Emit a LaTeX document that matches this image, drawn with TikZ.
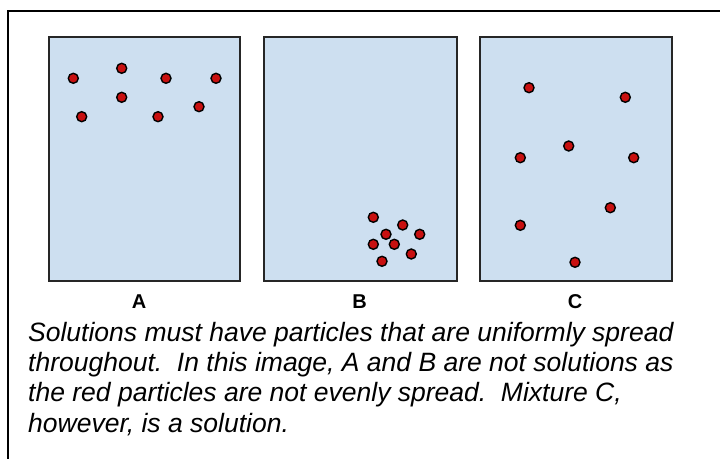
\documentclass[tikz,border=0pt]{standalone}
\usepackage{fontspec}
\setmainfont{Liberation Sans}
\begin{document}
\begin{tikzpicture}[x=1bp,y=-1bp,
  beaker/.style={draw=black!85, line width=2bp, fill={rgb,255:red,205;green,223;blue,240}, rectangle, inner sep=0pt, anchor=north west},
  particle/.style={circle, draw=black, line width=1.4bp, fill={rgb,255:red,200;green,16;blue,16}, minimum size=10bp, inner sep=0pt},
  tag/.style={font=\bfseries\fontsize{20bp}{22bp}\selectfont, anchor=base},
  frameline/.style={line width=1.5bp, draw=black}]
\useasboundingbox (0,0) rectangle (720,459);
\fill[white] (0,0) rectangle (720,459);
\coordinate (fTL) at (8,11);
\coordinate (fTR) at (720,11);
\coordinate (fBL) at (8,459);
\draw[frameline] (fTR) -- (fTL) -- (fBL);
% beakers
\node[beaker, minimum width=191bp, minimum height=244bp] (boxA) at (48,36) {};
\node[beaker, minimum width=193bp, minimum height=244bp] (boxB) at (263,36) {};
\node[beaker, minimum width=192bp, minimum height=244bp] (boxC) at (479,36) {};
% labels
\node[tag] (labA) at (139,309) {A};
\node[tag] (labB) at (359.5,309) {B};
\node[tag] (labC) at (575,309) {C};
% particles A
\node[particle] (a1) at (73.3,78.3) {};
\node[particle] (a2) at (121.7,68.3) {};
\node[particle] (a3) at (166,78.3) {};
\node[particle] (a4) at (216,78.3) {};
\node[particle] (a5) at (121.7,97.3) {};
\node[particle] (a6) at (81.7,116.7) {};
\node[particle] (a7) at (158,116.7) {};
\node[particle] (a8) at (199,106.7) {};
% particles B
\node[particle] (b1) at (373.3,217.3) {};
\node[particle] (b2) at (402.7,225) {};
\node[particle] (b3) at (386,234.3) {};
\node[particle] (b4) at (419.7,234.3) {};
\node[particle] (b5) at (373.3,244.3) {};
\node[particle] (b6) at (394.3,244.3) {};
\node[particle] (b7) at (411.3,254) {};
\node[particle] (b8) at (382,261.3) {};
% particles C
\node[particle] (c1) at (529,87.7) {};
\node[particle] (c2) at (625.3,97.3) {};
\node[particle] (c3) at (568.7,146) {};
\node[particle] (c4) at (520.3,157.7) {};
\node[particle] (c5) at (633.7,157.7) {};
\node[particle] (c6) at (610.3,207.7) {};
\node[particle] (c7) at (520.3,225.3) {};
\node[particle] (c8) at (575,262.3) {};
% caption (base anchor = baseline of last line)
\node[anchor=base west, align=left, inner sep=0pt, font=\itshape\fontsize{26.5bp}{30.1bp}\selectfont] (cap) at (28,432)
{Solutions must have particles that are uniformly spread\\
throughout.\ \ In this image, A and B are not solutions as\\
the red particles are not evenly spread.\ \ Mixture C,\\
however, is a solution.};
\end{tikzpicture}
\end{document}
